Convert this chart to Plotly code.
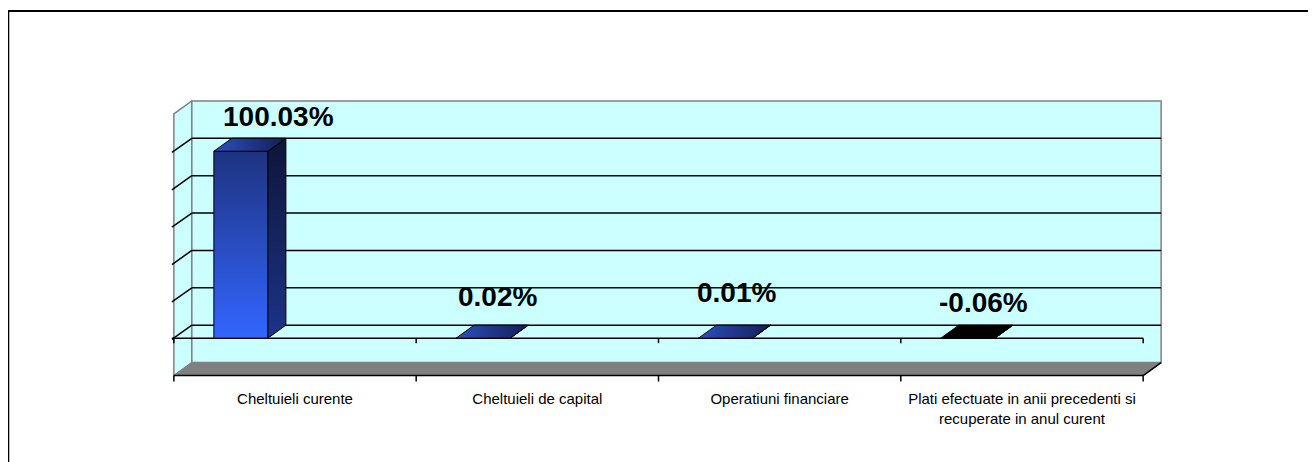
import plotly.graph_objects as go

# ---------------- data ----------------
categories = ["Cheltuieli curente", "Cheltuieli de capital", "Operatiuni financiare",
              "Plati efectuate in anii precedenti si<br>recuperate in anul curent"]
values = [100.03, 0.02, 0.01, -0.06]
grid_values = [0, 20, 40, 60, 80, 100]
y_min, y_max = -20, 120

# ---------------- geometry / style ----------------
W, H = 1316, 462
PAGE_OFF = 8             # default body margin of the html page
CAT_PX = 242.25          # pixels per category
UNIT_PX = 1.87           # pixels per value unit
DEPTH_X_PX, DEPTH_Y_PX = 18, 13
DX = DEPTH_X_PX / CAT_PX
DY = DEPTH_Y_PX / UNIT_PX
BAR_OFF = 40 / CAT_PX
BAR_W = 54 / CAT_PX
n = len(categories)

x_lo, x_hi = -0.02, n + DX + 0.02
y_lo, y_hi = y_min - 4, y_max + DY + 0.5
front_left_px, back_top_px = 174 - PAGE_OFF, 101 - PAGE_OFF
plot_w = (x_hi - x_lo) * CAT_PX
plot_h = (y_hi - y_lo) * UNIT_PX
m_l = front_left_px + x_lo * CAT_PX
m_t = back_top_px - 0.5 * UNIT_PX
m_r = W - m_l - plot_w
m_b = H - m_t - plot_h

WALL = "#CCFFFF"
EDGE = "#808080"
FONT = "Liberation Sans, Arial, sans-serif"

label_dx_px = [20, -4, -7, -2]
label_dy_px = [-22, -29, -33, -23]

fig = go.Figure()
shapes = []

# side wall
shapes.append(dict(type="path", xref="x", yref="y", layer="below",
                   path=f"M 0,{y_min} L {DX},{y_min+DY} L {DX},{y_max+DY} L 0,{y_max} Z",
                   fillcolor=WALL, line=dict(color=EDGE, width=1.5)))
# back wall
shapes.append(dict(type="rect", xref="x", yref="y", layer="below",
                   x0=DX, y0=y_min + DY, x1=n + DX, y1=y_max + DY,
                   fillcolor=WALL, line=dict(color=EDGE, width=1.5)))
# floor
shapes.append(dict(type="path", xref="x", yref="y", layer="below",
                   path=f"M 0,{y_min} L {n},{y_min} L {n+DX},{y_min+DY} L {DX},{y_min+DY} Z",
                   fillcolor=EDGE, line=dict(color=EDGE, width=1)))
# gridlines on back wall + side wall ticks
for g in grid_values:
    shapes.append(dict(type="line", xref="x", yref="y", layer="below",
                       x0=DX, y0=g + DY, x1=n + DX, y1=g + DY,
                       line=dict(color="black", width=1.5)))
    shapes.append(dict(type="line", xref="x", yref="y", layer="below",
                       x0=-0.008, y0=g - 0.6, x1=DX, y1=g + DY,
                       line=dict(color="black", width=1.5)))
# front zero line with ticks
shapes.append(dict(type="line", xref="x", yref="y", layer="below",
                   x0=-0.008, y0=0, x1=n, y1=0, line=dict(color="black", width=1.5)))
for i in range(n + 1):
    shapes.append(dict(type="line", xref="x", yref="y", layer="below",
                       x0=i, y0=0, x1=i, y1=-5 / UNIT_PX, line=dict(color="black", width=1.5)))
# floor front edge with ticks and right diagonal
shapes.append(dict(type="line", xref="x", yref="y", layer="above",
                   x0=0, y0=y_min, x1=n, y1=y_min, line=dict(color="black", width=1.5)))
shapes.append(dict(type="line", xref="x", yref="y", layer="above",
                   x0=n, y0=y_min, x1=n + DX, y1=y_min + DY, line=dict(color="black", width=1.5)))
for i in range(n + 1):
    shapes.append(dict(type="line", xref="x", yref="y", layer="above",
                       x0=i, y0=y_min, x1=i, y1=y_min - 6 / UNIT_PX,
                       line=dict(color="black", width=1.5)))
# outer chart border (starts right at the page's left edge of the figure)
bx0, by0, bx1, by1 = 0.5, 11 - PAGE_OFF, W + 20, H + 20
shapes.append(dict(type="rect", xref="paper", yref="paper", layer="above",
                   x0=(bx0 - m_l) / plot_w, x1=(bx1 - m_l) / plot_w,
                   y0=(H - m_b - by1) / plot_h, y1=(H - m_b - by0) / plot_h,
                   line=dict(color="black", width=2), fillcolor="rgba(0,0,0,0)"))

# bars (3D faces)
for i, v in enumerate(values):
    x0 = i + BAR_OFF
    x1 = x0 + BAR_W
    top = v
    # front face
    fig.add_trace(go.Scatter(
        x=[x0, x1, x1, x0, x0], y=[0, 0, top, top, 0], mode="lines", fill="toself",
        line=dict(color="black", width=1),
        fillgradient=dict(type="vertical", colorscale=[[0, "#3366FF"], [1, "#1E3380"]]),
        hoverinfo="skip", showlegend=False))
    # side face
    fig.add_trace(go.Scatter(
        x=[x1, x1 + DX, x1 + DX, x1, x1], y=[0, DY, top + DY, top, 0], mode="lines", fill="toself",
        line=dict(color="black", width=1),
        fillgradient=dict(type="vertical", colorscale=[[0, "#1C3388"], [1, "#0E1538"]]),
        hoverinfo="skip", showlegend=False))
    # top face
    face_top = max(top, 0)
    if v >= 0:
        grad = dict(type="horizontal", colorscale=[[0, "#2F4FBE"], [1, "#121E58"]])
    else:
        grad = dict(type="horizontal", colorscale=[[0, "#000000"], [1, "#000000"]])
    fig.add_trace(go.Scatter(
        x=[x0, x1, x1 + DX, x0 + DX, x0], y=[face_top, face_top, face_top + DY, face_top + DY, face_top],
        mode="lines", fill="toself", line=dict(color="black", width=1),
        fillgradient=grad, hoverinfo="skip", showlegend=False))
    fig.add_annotation(
        x=x0 + BAR_W / 2 + DX, y=face_top + DY, xref="x", yref="y",
        text=f"<b>{v:.2f}%</b>", showarrow=False, xanchor="center", yanchor="middle",
        xshift=label_dx_px[i], yshift=-label_dy_px[i],
        font=dict(family=FONT, size=28, color="black"))

fig.update_layout(
    width=W, height=H,
    margin=dict(l=m_l, r=m_r, t=m_t, b=m_b, autoexpand=False),
    paper_bgcolor="white", plot_bgcolor="white",
    shapes=shapes, showlegend=False,
    xaxis=dict(range=[x_lo, x_hi], tickvals=[i + 0.5 for i in range(n)], ticktext=categories,
               showgrid=False, zeroline=False, showline=False, ticks="",
               ticklabelstandoff=5,
               tickfont=dict(family=FONT, size=15, color="black"), fixedrange=True),
    yaxis=dict(range=[y_lo, y_hi], showgrid=False, zeroline=False, showline=False,
               showticklabels=False, ticks="", fixedrange=True),
)

fig.write_html("out.html")
